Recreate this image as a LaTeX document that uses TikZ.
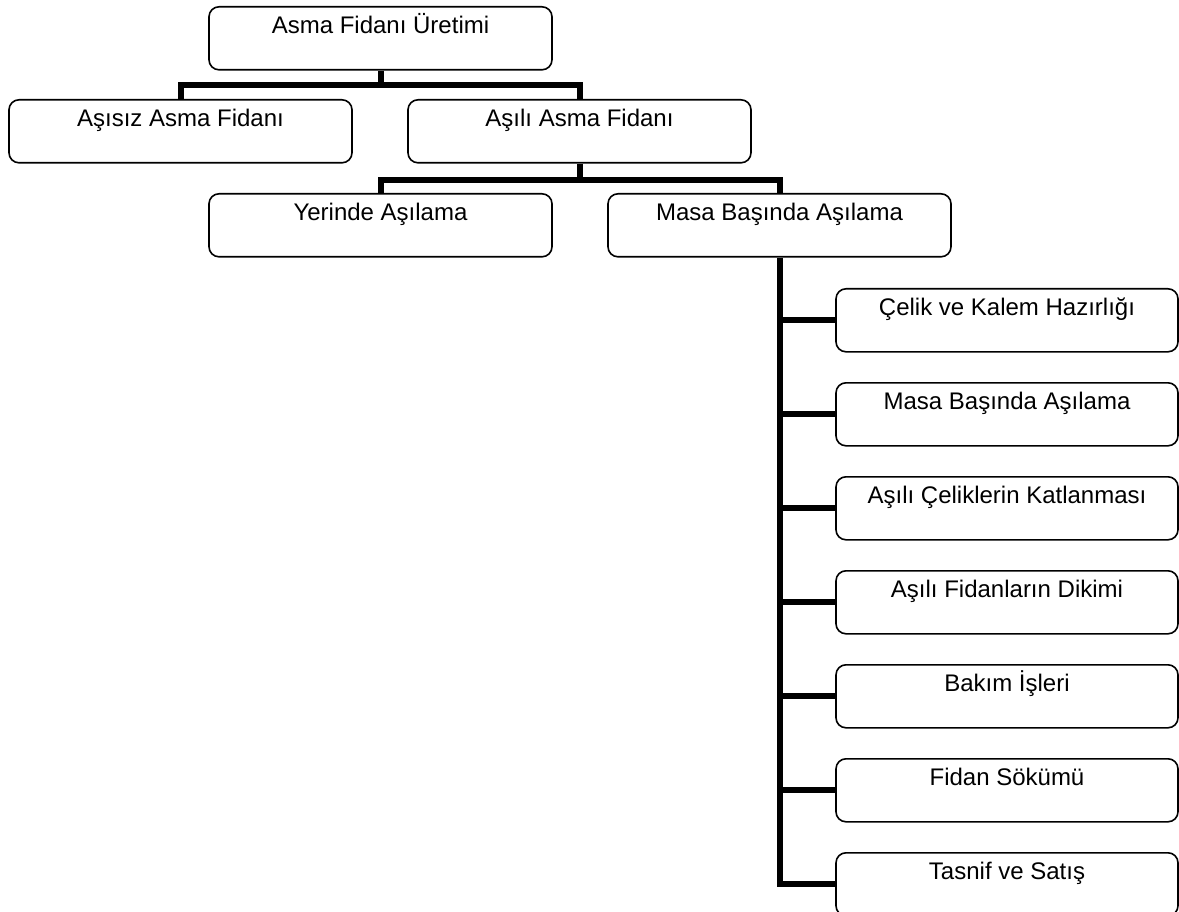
\documentclass[tikz,border=0pt]{standalone}
\usepackage{fontspec}
\setmainfont{Liberation Sans}
\begin{document}
\begin{tikzpicture}[x=1pt,y=-1pt,
  box/.style={draw=black, line width=1.6pt, rounded corners=10pt, fill=white,
    minimum width=343pt, inner xsep=0pt, inner ysep=0pt,
    text height=27pt, text depth=36pt, anchor=north,
    font=\fontsize{24}{28}\selectfont},
  rbox/.style={box, minimum width=342pt},
  conn/.style={line width=6pt, line join=miter, line cap=butt}]
\useasboundingbox (0,0) rectangle (1179,912);
% boxes
\node[box] (top) at (380.5,6) {Asma Fidanı Üretimi};
\node[box] (asisiz) at (180.5,99) {Aşısız Asma Fidanı};
\node[box] (asili) at (579.5,99) {Aşılı Asma Fidanı};
\node[box] (yerinde) at (380.5,193) {Yerinde Aşılama};
\node[box] (masa) at (779.5,193) {Masa Başında Aşılama};
\node[rbox] (r1) at (1007,288) {Çelik ve Kalem Hazırlığı};
\node[rbox] (r2) at (1007,382) {Masa Başında Aşılama};
\node[rbox] (r3) at (1007,476) {Aşılı Çeliklerin Katlanması};
\node[rbox] (r4) at (1007,570) {Aşılı Fidanların Dikimi};
\node[rbox] (r5) at (1007,664) {Bakım İşleri};
\node[rbox] (r6) at (1007,758) {Fidan Sökümü};
\node[rbox] (r7) at (1007,852) {Tasnif ve Satış};
% connectors
\coordinate (b1) at (380.5,85);
\coordinate (b2) at (579.5,180);
\draw[conn] (top.south) -- (b1);
\draw[conn] (asisiz.north) |- (b1) -| (asili.north);
\draw[conn] (asili.south) -- (b2);
\draw[conn] (yerinde.north) |- (b2) -| (masa.north);
\draw[conn] (masa.south) |- (r7.west);
\foreach \r in {r1,r2,r3,r4,r5,r6}{
  \draw[conn] (masa.south |- \r.west) -- (\r.west);
}
\end{tikzpicture}
\end{document}
